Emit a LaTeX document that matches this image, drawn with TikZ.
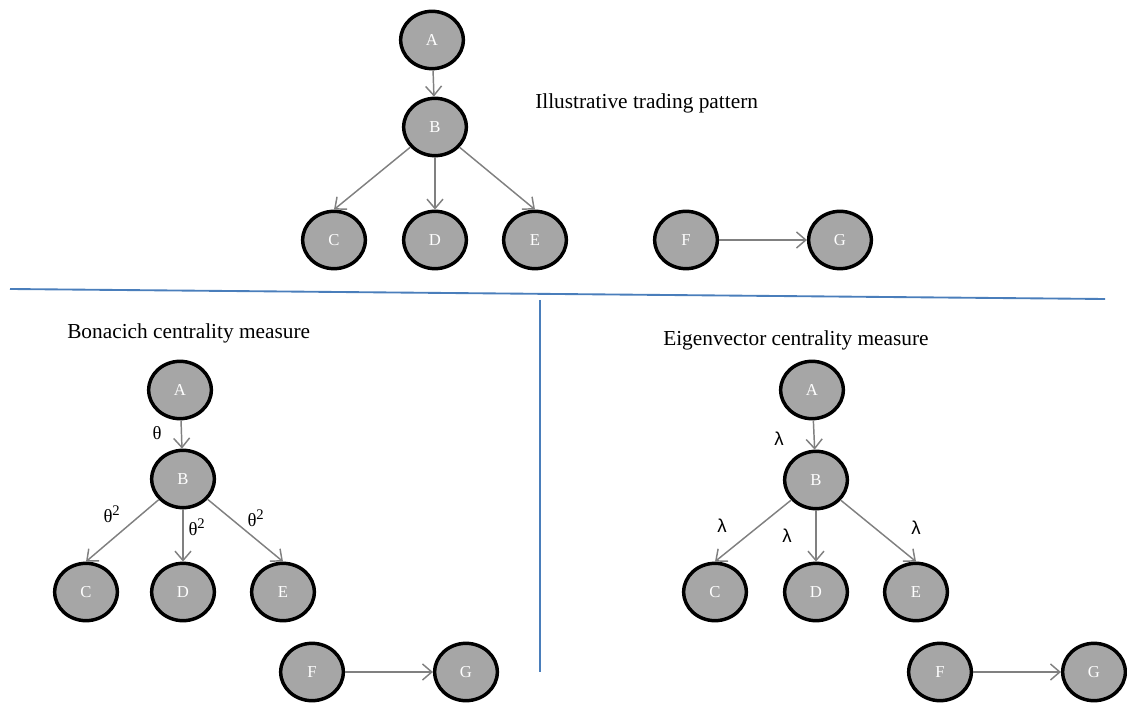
\documentclass[tikz,border=0pt]{standalone}
\usepackage{fontspec}
\setmainfont{Liberation Serif}
\newfontfamily\lsans{Liberation Sans}
\usetikzlibrary{shapes.geometric,arrows.meta}
\definecolor{nodegray}{HTML}{A6A6A6}
\definecolor{edgegray}{HTML}{808080}
\definecolor{lineblue}{HTML}{4A7EBB}
\tikzset{
  vert/.style={ellipse, draw=black, line width=2.6pt, fill=nodegray, minimum width=47pt, minimum height=43pt, inner sep=0pt, text=white, font=\fontsize{12.5}{14}\selectfont},
  edge/.style={draw=edgegray, line width=1.1pt, -{Straight Barb[length=7pt,width=12pt,line width=1.1pt]}},
  title/.style={font=\fontsize{16}{19}\selectfont, anchor=west, inner sep=0pt},
  elab/.style={font=\fontsize{14}{16}\selectfont, inner sep=0pt},
  llab/.style={font=\lsans\fontsize{14}{16}\selectfont, inner sep=0pt},
  divider/.style={draw=lineblue, line width=1.4pt}
}
\begin{document}
\begin{tikzpicture}[x=0.75pt,y=-0.75pt]
\useasboundingbox (0,0) rectangle (1127,705);
% Top panel
\node[vert] (tA) at (432,40) {A};
\node[vert] (tB) at (435,127) {B};
\node[vert] (tC) at (334,240) {C};
\node[vert] (tD) at (435,240) {D};
\node[vert] (tE) at (535,240) {E};
\node[vert] (tF) at (686,240) {F};
\node[vert] (tG) at (840,240) {G};
\node[title] (ttitle) at (535,103) {Illustrative trading pattern};
\draw[edge] (tA) -- (tB);
\draw[edge] (tB) -- (tC.north);
\draw[edge] (tB) -- (tD);
\draw[edge] (tB) -- (tE.north);
\draw[edge] (tF) -- (tG);
% Dividers
\coordinate (h1) at (10,289);
\coordinate (h2) at (1105,299);
\coordinate (v1) at (540,300);
\coordinate (v2) at (540,672);
\draw[divider] (h1) -- (h2);
\draw[divider] (v1) -- (v2);
% Bottom left
\node[title] (btitle) at (67,333) {Bonacich centrality measure};
\node[vert] (bA) at (180,390) {A};
\node[vert] (bB) at (183,479) {B};
\node[vert] (bC) at (86,592) {C};
\node[vert] (bD) at (183,592) {D};
\node[vert] (bE) at (283,592) {E};
\node[vert] (bF) at (312,672) {F};
\node[vert] (bG) at (466,672) {G};
\draw[edge] (bA) -- (bB);
\draw[edge] (bB) -- (bC.north);
\draw[edge] (bB) -- (bD);
\draw[edge] (bB) -- (bE.north);
\draw[edge] (bF) -- (bG);
\node[elab] (l1) at (157,433) {θ};
\node[elab] (l2) at (112,514) {θ\textsuperscript{\fontsize{11}{12}\selectfont 2}};
\node[elab] (l3) at (197,527) {θ\textsuperscript{\fontsize{11}{12}\selectfont 2}};
\node[elab] (l4) at (256,518) {θ\textsuperscript{\fontsize{11}{12}\selectfont 2}};
% Bottom right
\node[title] (rtitle) at (663,340) {Eigenvector centrality measure};
\node[vert] (rA) at (812,390) {A};
\node[vert] (rB) at (816,480) {B};
\node[vert] (rC) at (715,592) {C};
\node[vert] (rD) at (816,592) {D};
\node[vert] (rE) at (916,592) {E};
\node[vert] (rF) at (940,672) {F};
\node[vert] (rG) at (1094,672) {G};
\draw[edge] (rA) -- (rB);
\draw[edge] (rB) -- (rC.north);
\draw[edge] (rB) -- (rD);
\draw[edge] (rB) -- (rE.north);
\draw[edge] (rF) -- (rG);
\node[llab] (m1) at (779,439) {λ};
\node[llab] (m2) at (722,526) {λ};
\node[llab] (m3) at (787,536) {λ};
\node[llab] (m4) at (916,528) {λ};
\end{tikzpicture}
\end{document}
